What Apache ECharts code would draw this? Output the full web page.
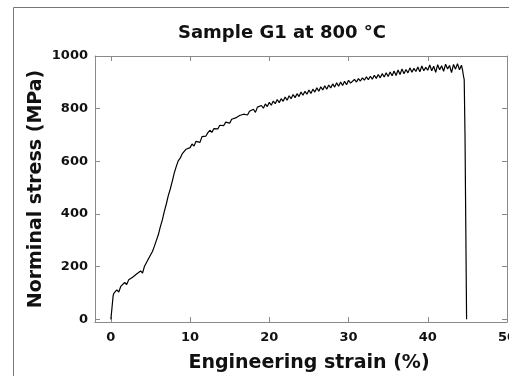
<!DOCTYPE html>
<html>
<head>
<meta charset="utf-8">
<script src="https://cdn.jsdelivr.net/npm/echarts@6/dist/echarts.min.js"></script>
<style>
html,body{margin:0;padding:0;background:#fff;}
#chart{width:509px;height:376px;}
</style>
</head>
<body>
<div id="chart"></div>
<script>
// ---- data ----
const titleText = 'Sample G1 at 800 °C';
const xAxisTitle = 'Engineering strain (%)';
const yAxisTitle = 'Norminal stress (MPa)';
const xTicks = [0, 10, 20, 30, 40, 50];
const yTicks = [0, 200, 400, 600, 800, 1000];

const strain = [
  0, 0.1, 0.2, 0.3, 0.4,
  0.5, 0.75, 1.0, 1.25, 1.5, 1.75, 2.0, 2.25, 2.5, 2.75,
  3.0, 3.25, 3.5, 3.75, 4.0, 4.25, 4.5, 4.75, 5.0, 5.25,
  5.5, 5.75, 6.0, 6.25, 6.5, 6.75, 7.0, 7.25, 7.5, 7.75,
  8.0, 8.25, 8.5, 8.75, 9.0, 9.25, 9.5, 9.75, 10.0, 10.25,
  10.5, 10.75, 11.0, 11.25, 11.5, 11.75, 12.0, 12.25, 12.5, 12.75,
  13.0, 13.25, 13.5, 13.75, 14.0, 14.25, 14.5, 14.75, 15.0, 15.25,
  15.5, 15.75, 16.0, 16.25, 16.5, 16.75, 17.0, 17.25, 17.5, 17.75,
  18.0, 18.25, 18.5, 18.75, 19.0, 19.25, 19.5, 19.75, 20.0, 20.25,
  20.5, 20.75, 21.0, 21.25, 21.5, 21.75, 22.0, 22.25, 22.5, 22.75,
  23.0, 23.25, 23.5, 23.75, 24.0, 24.25, 24.5, 24.75, 25.0, 25.25,
  25.5, 25.75, 26.0, 26.25, 26.5, 26.75, 27.0, 27.25, 27.5, 27.75,
  28.0, 28.25, 28.5, 28.75, 29.0, 29.25, 29.5, 29.75, 30.0, 30.25,
  30.5, 30.75, 31.0, 31.25, 31.5, 31.75, 32.0, 32.25, 32.5, 32.75,
  33.0, 33.25, 33.5, 33.75, 34.0, 34.25, 34.5, 34.75, 35.0, 35.25,
  35.5, 35.75, 36.0, 36.25, 36.5, 36.75, 37.0, 37.25, 37.5, 37.75,
  38.0, 38.25, 38.5, 38.75, 39.0, 39.25, 39.5, 39.75, 40.0, 40.25,
  40.5, 40.75, 41.0, 41.25, 41.5, 41.75, 42.0, 42.25, 42.5, 42.75,
  43.0, 43.25, 43.5, 43.75, 44.0, 44.25, 44.4, 44.5, 44.6, 44.7,
  44.8, 44.9
];
const stress = [
  0, 30, 62, 92, 100,
  102, 112, 104, 125, 118, 140, 132, 150, 148, 160,
  155, 172, 168, 184, 176, 202, 205, 230, 236, 258,
  278, 300, 322, 352, 378, 410, 438, 470, 495, 524,
  555, 580, 602, 612, 628, 622, 646, 640, 652, 666,
  658, 676, 679, 672, 694, 700, 696, 709, 718, 710,
  724, 729, 723, 737, 741, 736, 749, 752, 745, 760,
  758, 765, 762, 774, 768, 779, 782, 776, 790, 788,
  798, 786, 806, 799, 812, 802, 818, 808, 824, 813,
  829, 819, 835, 823, 838, 828, 844, 832, 849, 838,
  854, 842, 857, 846, 863, 851, 866, 855, 871, 858,
  874, 863, 879, 866, 883, 871, 887, 874, 890, 879,
  894, 882, 898, 885, 901, 888, 904, 891, 908, 897,
  899, 911, 901, 914, 905, 917, 908, 921, 910, 923,
  912, 927, 915, 930, 917, 933, 920, 936, 922, 939,
  925, 943, 926, 947, 930, 951, 933, 949, 936, 955,
  938, 953, 941, 958, 940, 962, 944, 957, 946, 966,
  944, 961, 938, 967, 948, 963, 942, 969, 951, 964,
  937, 968, 950, 971, 948, 965, 945, 925, 910, 700,
  350, 0
];

// ---- chart ----
const data = strain.map((x, i) => [x, stress[i]]);
const FONT = 'DejaVu Sans';
const axisColor = '#8a8a8a';
const plainNum = v => String(v);

const chart = echarts.init(document.getElementById('chart'), null, {renderer: 'canvas'});
chart.setOption({
  animation: false,
  backgroundColor: '#ffffff',
  graphic: [{
    type: 'rect',
    shape: {x: 13.5, y: 7.5, width: 600, height: 500},
    style: {fill: 'none', stroke: '#777', lineWidth: 1},
    silent: true, z: -1
  }],
  title: {
    text: titleText,
    left: 277, top: 19, textAlign: 'center',
    textStyle: {fontFamily: FONT, fontWeight: 'bold', fontSize: 18, color: '#111'}
  },
  grid: {left: 95, top: 56, right: 2, bottom: 54, containLabel: false, outerBoundsMode: 'none'},
  xAxis: [{
    type: 'value', min: -2, max: 50, position: 'bottom',
    name: xAxisTitle, nameLocation: 'middle', nameGap: 32, nameMoveOverlap: false,
    nameTextStyle: {fontFamily: FONT, fontWeight: 'bold', fontSize: 19, color: '#111', padding: [0, 0, 0, 16]},
    axisLine: {show: true, onZero: false, lineStyle: {color: axisColor, width: 1}},
    axisTick: {show: true, inside: true, length: 5, customValues: xTicks, lineStyle: {color: axisColor}},
    axisLabel: {customValues: xTicks, formatter: plainNum, margin: 9, fontFamily: FONT, fontWeight: 'bold', fontSize: 13, color: '#111'},
    splitLine: {show: false}
  }, {
    type: 'value', min: -2, max: 50, position: 'top',
    axisLine: {show: true, onZero: false, lineStyle: {color: axisColor, width: 1}},
    axisTick: {show: true, inside: true, length: 5, customValues: xTicks, lineStyle: {color: axisColor}},
    axisLabel: {show: false},
    splitLine: {show: false}
  }],
  yAxis: [{
    type: 'value', min: -10, max: 1000, position: 'left',
    name: yAxisTitle, nameLocation: 'middle', nameGap: 49, nameMoveOverlap: false,
    nameTextStyle: {fontFamily: FONT, fontWeight: 'bold', fontSize: 19, color: '#111'},
    axisLine: {show: true, onZero: false, lineStyle: {color: axisColor, width: 1}},
    axisTick: {show: true, inside: true, length: 5, customValues: yTicks, lineStyle: {color: axisColor}},
    axisLabel: {customValues: yTicks, formatter: plainNum, margin: 7, fontFamily: FONT, fontWeight: 'bold', fontSize: 13, color: '#111'},
    splitLine: {show: false}
  }, {
    type: 'value', min: -10, max: 1000, position: 'right',
    axisLine: {show: true, onZero: false, lineStyle: {color: axisColor, width: 1}},
    axisTick: {show: true, inside: true, length: 5, customValues: yTicks, lineStyle: {color: axisColor}},
    axisLabel: {show: false},
    splitLine: {show: false}
  }],
  series: [{
    type: 'line', xAxisIndex: 0, yAxisIndex: 0,
    data: data, showSymbol: false, symbol: 'none',
    lineStyle: {color: '#000', width: 1.2},
    clip: true
  }]
});
</script>
</body>
</html>
